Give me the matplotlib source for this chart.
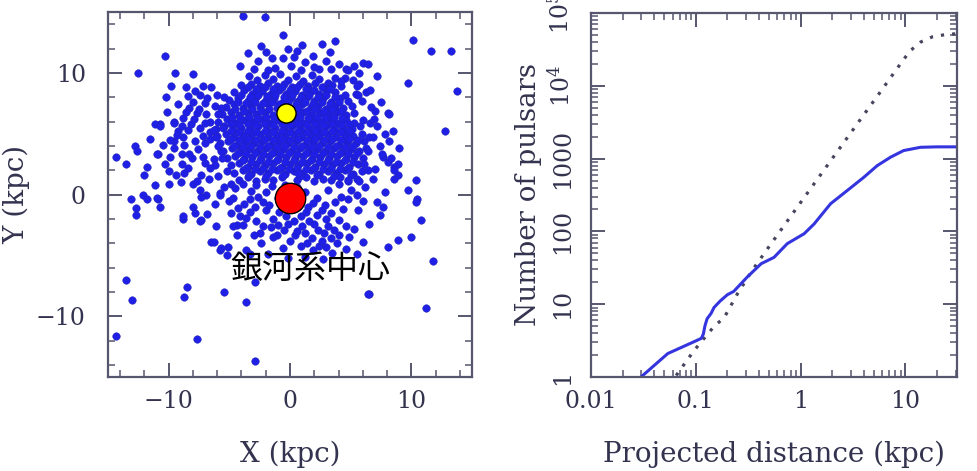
import numpy as np
import matplotlib.pyplot as plt
from matplotlib.ticker import MultipleLocator, LogLocator, NullFormatter

plt.rcParams['font.family'] = ['DejaVu Serif']
plt.rcParams['mathtext.fontset'] = 'dejavuserif'

TXT = '#33334f'
SPINE = '#56566e'

# --- pulsar positions (kpc) ---
# dense core of the cloud
core_a = [
    (-3.4,9.7),(-2.7,9.4),(-2.1,9.8),(-1.4,9.5),(-0.8,9.9),(-0.2,9.4),(0.5,9.7),(1.1,9.3),(1.8,9.8),(2.4,9.5),(3.1,9.2),(3.7,9.6),
    (-4.0,9.0),(-3.2,9.1),(-2.5,8.9),(-1.8,9.2),(-1.1,8.9),(-0.5,9.1),(0.2,8.8),(0.8,9.1),(1.5,8.9),(2.1,9.2),(2.8,8.8),(3.5,9.0),(4.2,8.9),
    (-4.6,8.4),(-3.8,8.6),(-3.1,8.3),(-2.3,8.5),(-1.6,8.3),(-0.9,8.6),(-0.3,8.3),(0.4,8.5),(1.0,8.2),(1.7,8.5),(2.4,8.3),(3.0,8.6),(3.7,8.4),(4.5,8.2),
    (-5.0,7.8),(-4.3,7.9),(-3.5,7.7),(-2.8,8.0),(-2.0,7.8),(-1.3,7.9),(-0.6,7.6),(0.1,7.9),(0.7,7.7),(1.4,8.0),(2.0,7.7),(2.7,7.9),(3.4,7.6),(4.1,7.9),(4.8,7.7),
    (-5.3,7.2),(-4.6,7.4),(-3.9,7.1),(-3.2,7.3),(-2.5,7.2),(-1.8,7.4),(-1.1,7.1),(-0.4,7.3),(0.3,7.1),(1.0,7.4),(1.7,7.2),(2.3,7.3),(3.0,7.0),(3.7,7.3),(4.4,7.1),(5.1,7.3),
    (-5.6,6.6),(-4.9,6.8),(-4.2,6.5),(-3.5,6.7),(-2.8,6.6),(-2.1,6.8),(-1.4,6.5),(-0.8,6.9),(0.4,6.6),(1.1,6.8),(1.8,6.5),(2.5,6.7),(3.2,6.6),(3.9,6.8),(4.6,6.5),(5.3,6.7),
    (-5.9,6.0),(-5.2,6.2),(-4.5,5.9),(-3.8,6.1),(-3.1,6.0),(-2.4,6.2),(-1.7,5.9),(-1.0,6.1),(-0.3,6.0),(0.4,6.2),(1.1,5.9),(1.8,6.1),(2.5,6.0),(3.2,6.2),(3.9,5.9),(4.6,6.1),(5.3,5.9),(6.0,6.1),
    (-6.1,5.4),(-5.4,5.6),(-4.7,5.3),(-4.0,5.5),(-3.3,5.4),(-2.6,5.6),(-1.9,5.3),(-1.2,5.5),(-0.5,5.4),(0.2,5.6),(0.9,5.3),(1.6,5.5),(2.3,5.4),(3.0,5.6),(3.7,5.3),(4.4,5.5),(5.1,5.4),(5.8,5.6),
    (-6.0,4.8),(-5.3,5.0),(-4.6,4.7),(-3.9,4.9),(-3.2,4.8),(-2.5,5.0),(-1.8,4.7),(-1.1,4.9),(-0.4,4.8),(0.3,5.0),(1.0,4.7),(1.7,4.9),(2.4,4.8),(3.1,5.0),(3.8,4.7),(4.5,4.9),(5.2,4.8),(5.9,5.0),(6.5,4.7),
    (-5.8,4.2),(-5.1,4.4),(-4.4,4.1),(-3.7,4.3),(-3.0,4.2),(-2.3,4.4),(-1.6,4.1),(-0.9,4.3),(-0.2,4.2),(0.5,4.4),(1.2,4.1),(1.9,4.3),(2.6,4.2),(3.3,4.4),(4.0,4.1),(4.7,4.3),(5.4,4.2),(6.1,4.4),
    (-5.5,3.6),(-4.8,3.8),(-4.1,3.5),(-3.4,3.7),(-2.7,3.6),(-2.0,3.8),(-1.3,3.5),(-0.6,3.7),(0.1,3.6),(0.8,3.8),(1.5,3.5),(2.2,3.7),(2.9,3.6),(3.6,3.8),(4.3,3.5),(5.0,3.7),(5.7,3.6),(6.3,3.8),
    (-5.2,3.0),(-4.5,3.2),(-3.8,2.9),(-3.1,3.1),(-2.4,3.0),(-1.7,3.2),(-1.0,2.9),(-0.3,3.1),(0.4,3.0),(1.1,3.2),(1.8,2.9),(2.5,3.1),(3.2,3.0),(3.9,3.2),(4.6,2.9),(5.3,3.1),(6.0,3.0),
    (-4.9,2.4),(-4.2,2.6),(-3.5,2.3),(-2.8,2.5),(-2.1,2.4),(-1.4,2.6),(-0.7,2.3),(0.0,2.5),(0.7,2.4),(1.4,2.6),(2.1,2.3),(2.8,2.5),(3.5,2.4),(4.2,2.6),(4.9,2.3),(5.6,2.5),
    (-4.6,1.8),(-3.9,2.0),(-3.2,1.7),(-2.5,1.9),(-1.8,1.8),(-1.1,2.0),(-0.4,1.7),(0.3,1.9),(1.0,1.8),(1.7,2.0),(2.4,1.7),(3.1,1.9),(3.8,1.8),(4.5,2.0),(5.2,1.7),(5.9,1.9),
    (-4.2,1.2),(-3.5,1.4),(-2.8,1.1),(-2.1,1.3),(-1.4,1.2),(-0.7,1.4),(0.6,1.2),(1.3,1.4),(2.0,1.1),(2.7,1.3),(3.4,1.2),(4.1,1.4),(4.8,1.1),(5.5,1.3),
]
core_b = [
    (-3.5,8.8),(-2.8,8.7),(-2.1,8.8),(-1.4,8.7),(-0.7,8.8),(0.0,8.6),(0.6,8.8),(1.3,8.7),(2.0,8.6),(2.6,8.8),(3.3,8.7),
    (-4.0,8.2),(-3.3,8.0),(-2.6,8.2),(-1.9,8.1),(-1.2,8.2),(-0.5,8.0),(0.2,8.2),(0.9,8.0),(1.6,8.2),(2.3,8.0),(3.0,8.2),(3.7,8.0),
    (-4.3,7.6),(-3.6,7.5),(-2.9,7.6),(-2.2,7.5),(-1.5,7.6),(-0.9,7.4),(-0.2,7.6),(0.5,7.4),(1.2,7.6),(1.9,7.4),(2.6,7.6),(3.3,7.4),(4.0,7.6),
    (-4.5,7.0),(-3.8,6.9),(-3.1,7.0),(-2.4,6.9),(-1.7,7.0),(0.0,6.9),(0.7,7.0),(1.4,6.9),(2.1,7.0),(2.8,6.9),(3.5,7.0),(4.2,6.9),
    (-4.8,6.4),(-4.1,6.3),(-3.4,6.4),(-2.7,6.3),(-2.0,6.4),(-1.3,6.3),(0.1,6.3),(0.8,6.4),(1.5,6.3),(2.2,6.4),(2.9,6.3),(3.6,6.4),(4.3,6.3),
    (-4.9,5.8),(-4.2,5.7),(-3.5,5.8),(-2.8,5.7),(-2.1,5.8),(-1.4,5.7),(-0.7,5.8),(0.0,5.7),(0.7,5.8),(1.4,5.7),(2.1,5.8),(2.8,5.7),(3.5,5.8),(4.2,5.7),(4.9,5.8),
    (-4.9,5.2),(-4.2,5.1),(-3.5,5.2),(-2.8,5.1),(-2.1,5.2),(-1.4,5.1),(-0.7,5.2),(0.0,5.1),(0.7,5.2),(1.4,5.1),(2.1,5.2),(2.8,5.1),(3.5,5.2),(4.2,5.1),(4.9,5.2),
    (-4.9,4.6),(-4.2,4.5),(-3.5,4.6),(-2.8,4.5),(-2.1,4.6),(-1.4,4.5),(-0.7,4.6),(0.0,4.5),(0.7,4.6),(1.4,4.5),(2.1,4.6),(2.8,4.5),(3.5,4.6),(4.2,4.5),(4.9,4.6),(5.6,4.5),
    (-4.6,4.0),(-3.9,3.9),(-3.2,4.0),(-2.5,3.9),(-1.8,4.0),(-1.1,3.9),(-0.4,4.0),(0.3,3.9),(1.0,4.0),(1.7,3.9),(2.4,4.0),(3.1,3.9),(3.8,4.0),(4.5,3.9),(5.2,4.0),
    (-4.3,3.4),(-3.6,3.3),(-2.9,3.4),(-2.2,3.3),(-1.5,3.4),(-0.8,3.3),(-0.1,3.4),(0.6,3.3),(1.3,3.4),(2.0,3.3),(2.7,3.4),(3.4,3.3),(4.1,3.4),(4.8,3.3),(5.5,3.4),
    (-3.9,2.8),(-3.2,2.7),(-2.5,2.8),(-1.8,2.7),(-1.1,2.8),(-0.4,2.7),(0.3,2.8),(1.0,2.7),(1.7,2.8),(2.4,2.7),(3.1,2.8),(3.8,2.7),(4.5,2.8),(5.2,2.7),
    (-3.6,2.2),(-2.9,2.1),(-2.2,2.2),(-1.5,2.1),(-0.8,2.2),(-0.1,2.1),(0.6,2.2),(1.3,2.1),(2.0,2.2),(2.7,2.1),(3.4,2.2),(4.1,2.1),(4.8,2.2),
    (-3.4,1.6),(-2.0,1.5),(-0.6,1.6),(0.8,1.5),(2.2,1.6),(3.6,1.5),(5.0,1.6),
]
# upper part and right flank
upper = [
    (-3.5,11.6),(-2.6,11.0),(-2.0,11.7),(-1.2,10.4),(-0.6,11.2),(0.1,10.6),(0.6,11.8),(1.2,10.9),(1.9,11.4),(2.4,10.3),(3.0,11.0),
    (-3.0,10.3),(-1.8,10.2),(0.9,10.2),(-0.2,12.0),(3.4,10.3),(-4.1,10.6),(2.0,10.5),(-2.4,12.2),(1.0,12.3),(0.3,11.3),(-1.5,11.2),
    (-0.6,13.1),(-3.9,14.7),(-2.1,14.6),(2.6,12.4),(3.7,12.6),(3.3,11.7),(4.0,10.7),(4.6,10.3),
    (5.3,10.6),(6.0,10.8),(6.4,10.7),(4.8,10.2),(5.7,10.0),(4.5,9.6),(5.2,9.4),(4.2,9.3),(5.7,9.1),(5.5,8.9),(5.4,8.3),(6.3,8.4),
    (5.9,7.7),(6.7,7.2),(5.6,8.2),(7.0,6.9),(8.1,6.7),(6.6,5.9),(7.2,5.6),(8.5,5.2),(8.2,4.4),(6.8,4.7),(9.0,3.8),(7.7,3.1),
    (8.1,2.7),(8.6,2.3),(6.4,3.6),(6.1,2.5),(8.2,6.6),(7.6,3.3),(8.3,3.0),(8.9,2.5),(8.9,1.6),
]
# left lobe
left = [
    (-10.3,11.4),(-9.5,10.0),(-8.0,9.9),(-9.8,8.9),(-10.2,8.0),(-8.6,8.8),(-7.8,8.5),(-7.2,8.9),(-6.5,8.8),(-8.4,8.1),(-7.4,8.2),
    (-10.7,5.8),(-9.6,6.0),(-8.8,6.3),(-8.3,7.1),(-7.7,6.7),(-6.9,6.6),(-6.2,7.3),(-9.2,5.2),(-8.4,5.3),(-7.4,5.5),(-6.6,5.1),
    (-10.5,4.1),(-9.6,4.4),(-8.7,4.1),(-7.8,4.4),(-7.0,4.2),(-6.1,4.7),(-10.9,3.3),(-9.9,3.1),(-8.9,3.3),(-8.1,3.0),(-7.2,3.1),
    (-6.3,2.9),(-5.7,3.6),(-5.7,7.1),(-5.4,8.0),(-5.5,5.5),(-8.0,7.6),(-7.0,7.5),(-6.0,8.2),(-6.6,6.0),(-5.9,6.6),(-7.9,6.2),
    (-8.9,5.6),(-7.2,4.8),(-6.3,5.3),(-5.9,1.5),(-5.2,1.9),(-4.9,0.9),(-6.2,2.4),(-5.6,3.0),
    (-12.5,10.0),(-11.1,5.8),(-10.7,5.6),(-12.8,4.0),(-12.6,3.6),(-14.3,3.1),(-13.5,2.5),(-12.0,1.6),(-11.1,0.8),(-10.0,0.9),
    (-11.0,3.3),(-10.3,2.5),(-9.6,3.8),(-8.9,2.5),(-8.3,3.3),(-9.9,4.5),(-8.8,4.7),(-9.6,5.9),(-9.4,1.6),(-8.0,0.9),(-7.3,1.6),
    (-6.6,2.2),(-5.8,0.1),(-6.9,0.0),(-12.1,0.0),(-13.1,-0.4),(-10.0,1.9),(-8.7,1.8),(-7.7,1.1),(-10.9,-0.4),
    (-9.2,7.4),(-8.6,6.8),(-7.5,7.0),(-6.8,7.9),(-9.3,4.9),(-8.2,5.8),(-7.0,5.9),(-6.6,4.6),(-5.9,4.0),(-7.6,3.7),
    (-8.4,2.2),(-7.0,2.6),(-6.7,1.3),(-9.0,1.0),(-7.4,0.4),(-6.2,-0.8),(-6.8,-1.6),(-10.1,6.8),(-11.5,4.6),(-11.8,2.3),
]
# below the core
lower = [
    (-12.7,-1.1),(-12.7,-1.7),(-11.8,-0.4),(-10.7,-1.0),(-11.0,-0.3),(-8.8,-2.0),(-7.4,-2.2),(-8.0,-1.0),(-7.8,-1.5),(-7.3,-0.2),
    (-6.1,-2.6),(-6.5,-3.9),(-5.8,-4.6),(-5.1,-4.3),(-5.2,-5.0),(-4.4,-3.3),(-3.6,-4.6),(-5.8,0.0),(-4.7,-0.3),(-4.3,-1.1),
    (-4.4,-2.5),(-4.1,-1.8),(-3.3,-1.4),(-2.8,-2.2),(-2.5,-3.2),(-3.0,-3.3),(-2.0,-1.3),(-1.4,-2.0),(-1.1,-3.3),(-2.2,-0.6),
    (-3.3,-0.4),(-8.8,-1.8),(-7.3,-2.1),(-6.3,-3.9),(-5.7,-4.4),(-4.7,-2.6),(-3.9,-2.5),(-2.2,-2.6),(-1.4,-3.5),(-1.0,-2.5),
    (-0.6,-4.4),(-5.0,-0.5),(-3.8,-0.8),(-2.6,-0.2),(-1.7,-0.9),(-1.0,-0.3),(-0.9,-1.4),(-2.0,0.2),(-3.2,0.3),(-4.5,0.5),
    (-5.4,0.6),(-1.5,0.7),(-2.8,0.8),(-3.9,0.9),(0.6,0.6),(1.2,0.2),(0.5,-0.9),(-0.4,0.8),
    (0.7,1.8),(5.5,0.0),(5.6,-1.3),(4.8,-0.4),(4.2,-0.2),(4.9,-3.5),(4.0,-3.3),(3.4,-3.6),(3.0,-4.3),(2.4,-4.2),(1.8,-3.6),
    (1.2,-3.2),(0.4,-3.3),(2.3,-2.9),(3.1,-2.6),(4.0,-2.1),(2.6,-1.3),(3.4,-1.5),(1.5,-1.0),(0.9,-1.8),(1.6,-2.2),(2.2,-0.3),
    (3.1,0.4),(4.0,0.9),(4.8,1.2),(5.7,1.1),(6.4,2.0),(6.8,1.3),(0.1,-1.0),(1.9,-0.7),(2.9,-0.9),(3.7,-0.6),(1.3,-1.4),
    (2.2,-1.7),(3.0,-2.0),(1.0,-2.6),(2.0,-2.4),(3.6,-2.9),(0.3,-2.2),(-0.3,-1.8),(-0.5,-2.9),(0.0,-3.8),(0.9,-4.2),(1.9,-4.6),
    (3.5,-4.8),(4.6,-4.5),(2.6,-3.8),(7.2,-0.6),(7.7,-1.0),(7.4,-1.7),(8.6,1.3),(8.6,2.0),(10.4,1.2),(9.7,0.4),(10.5,-0.4),
    (10.8,-2.1),(10.0,-3.5),(8.9,-3.7),(8.1,-4.3),(10.4,-0.6),
    (-4.9,-1.5),(-3.6,-1.9),(-2.9,-1.0),(-1.6,-2.7),(-0.5,-0.5),(0.8,-0.2),(-0.2,-2.4),(0.6,-3.0),(1.4,-4.0),(2.8,-3.2),
    (4.4,-1.2),(4.6,-2.6),(3.9,-4.0),(-2.4,-4.0),(-3.3,-4.9),(-1.8,-4.9),(-0.2,-5.2),(1.2,-5.1),(2.7,-5.3),
    (6.2,0.6),(7.0,2.1),(7.4,4.0),(7.8,5.0),(6.9,6.2),(7.5,7.6),(6.6,8.6),(7.2,9.7),(5.0,0.4),(6.0,-0.5),
    (7.8,0.2),(6.5,-2.4),(5.3,-2.8),(6.0,-3.9),(5.5,-4.9),
]
# scattered outliers
outer = [
    (10.1,12.7),(11.6,11.8),(13.3,11.8),(9.7,9.2),(13.8,8.5),(12.8,5.2),(11.8,-5.5),(11.2,-9.3),(6.5,-8.2),(6.4,-8.2),
    (-13.5,-7.0),(-13.0,-8.7),(-8.5,-7.6),(-8.7,-8.4),(-5.4,-8.0),(-3.6,-8.8),(-2.9,-7.2),(-14.3,-11.6),(-7.7,-11.9),(-2.9,-13.7),
]
pulsars = np.array(core_a + core_b + upper + left + lower + outer)

sun_xy = (-0.3, 6.7)
centre_xy = (0.0, -0.3)
centre_label = '銀河系中心'

# --- cumulative counts vs projected distance ---
obs_dist = [0.030, 0.054, 0.096, 0.113, 0.118, 0.122, 0.128, 0.14, 0.149, 0.17, 0.2, 0.23, 0.31, 0.42, 0.557, 0.746,
            1.08, 1.34, 1.93, 2.78, 4.0, 5.37, 7.2, 9.6, 13.9, 20, 31]
obs_count = [1.0, 2.1, 3.05, 3.4, 3.9, 5.0, 6.3, 7.5, 9.0, 11, 13.5, 15, 23.7, 36, 44, 68,
             93, 126, 240, 364, 553, 800, 1045, 1290, 1430, 1450, 1450]
mod_dist = [0.065, 0.08, 0.096, 0.12, 0.15, 0.186, 0.25, 0.35, 0.5, 0.7, 1.0, 1.4, 2.0, 2.8, 4.0, 5.6, 8.0,
            11, 14, 18, 24, 31]
mod_count = [1.05, 1.6, 2.3, 3.4, 5.0, 6.5, 14, 30, 62, 122, 250, 490, 1000, 1960, 4000, 7800, 16000,
             30000, 40000, 47000, 50500, 52000]

fig = plt.figure(figsize=(9.78, 4.71), dpi=100)
ax1 = fig.add_axes([108/978, 94/471, 364/978, 365/471])
ax2 = fig.add_axes([591/978, 94/471, 366/978, 364/471])

ax1.scatter(pulsars[:, 0], pulsars[:, 1], s=30, c='#1f1fe6', edgecolors='#2020b0', linewidths=0.3, zorder=2)
ax1.scatter(*sun_xy, s=190, c='#ffff00', edgecolors='black', linewidths=1.0, zorder=4)
ax1.scatter(*centre_xy, s=480, c='#ff0000', edgecolors='black', linewidths=1.0, zorder=4)
ax1.text(1.7, -6.1, centre_label, fontsize=23, family=['Noto Sans CJK JP', 'DejaVu Sans'],
         ha='center', va='center', color='black', zorder=5)

ax1.set_xlim(-15, 15)
ax1.set_ylim(-15, 15)
ax1.xaxis.set_major_locator(MultipleLocator(10))
ax1.yaxis.set_major_locator(MultipleLocator(10))
ax1.xaxis.set_minor_locator(MultipleLocator(2))
ax1.yaxis.set_minor_locator(MultipleLocator(2))
ax1.set_xlabel('X (kpc)', fontsize=20, color=TXT, labelpad=20)
ax1.set_ylabel('Y (kpc)', fontsize=20, color=TXT, labelpad=4)

ax2.plot(mod_dist, mod_count, linestyle=(0, (1, 2.5)), lw=2.3, color='#45455e')
ax2.plot(obs_dist, obs_count, '-', lw=2.2, color='#3535e0')
ax2.set_xscale('log')
ax2.set_yscale('log')
ax2.set_xlim(0.01, 31)
ax2.set_ylim(1, 1e5)
ax2.set_xticks([0.01, 0.1, 1, 10])
ax2.set_xticklabels(['0.01', '0.1', '1', '10'])
ax2.set_yticks([1, 10, 100, 1000, 1e4, 1e5])
ax2.set_yticklabels(['1', '10', '100', '1000', r'$10^4$', r'$10^5$'], rotation=90, va='center')
ax2.xaxis.set_minor_locator(LogLocator(base=10, subs=np.arange(2, 10)))
ax2.yaxis.set_minor_locator(LogLocator(base=10, subs=np.arange(2, 10)))
ax2.xaxis.set_minor_formatter(NullFormatter())
ax2.yaxis.set_minor_formatter(NullFormatter())
ax2.set_xlabel('Projected distance (kpc)', fontsize=20, color=TXT, labelpad=20)
ax2.set_ylabel('Number of pulsars', fontsize=20, color=TXT, labelpad=4)

for ax in (ax1, ax2):
    for sp in ax.spines.values():
        sp.set_color(SPINE)
        sp.set_linewidth(1.6)
    ax.tick_params(which='both', direction='in', top=True, right=True, colors=SPINE,
                   labelcolor=TXT, labelsize=17)
    ax.tick_params(which='major', length=10, width=1.4, pad=9)
    ax.tick_params(which='minor', length=5, width=1.1)
ax1.tick_params(axis='y', which='major', pad=16)
ax2.tick_params(axis='y', which='major', pad=12)

fig.savefig('out.png', dpi=100)
